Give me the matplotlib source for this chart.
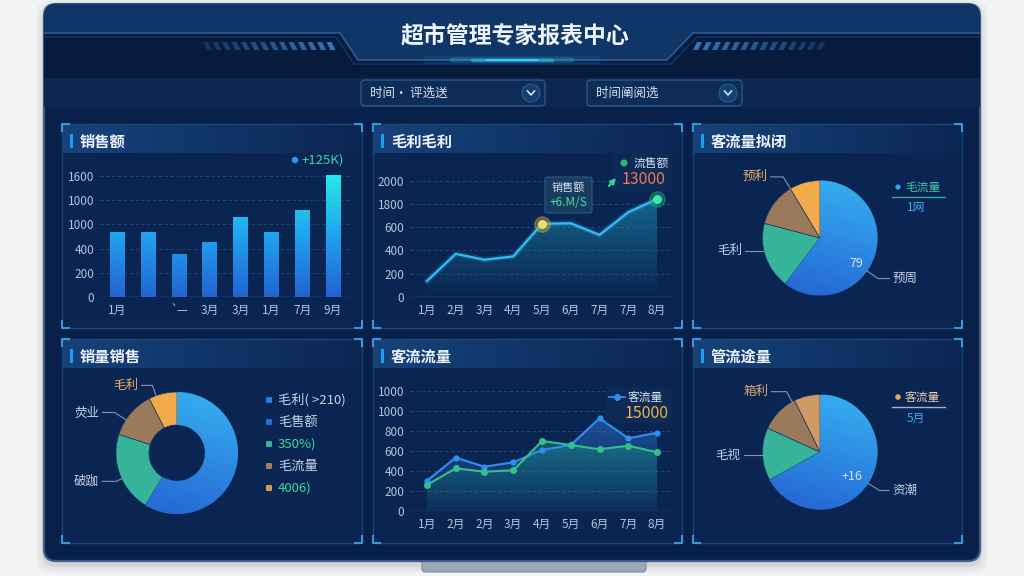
import numpy as np
import matplotlib
matplotlib.use('Agg')
import matplotlib.pyplot as plt
from matplotlib.patches import FancyBboxPatch, Rectangle, Polygon, Circle
from matplotlib.colors import LinearSegmentedColormap, to_rgb

plt.rcParams['font.family'] = ['Noto Sans CJK SC', 'DejaVu Sans']

W, H = 1024, 576

# ---------------- data ----------------
title = '超市管理专家报表中心'
filter_texts = ['时间· 评选送', '时间阐阅选']
panel_titles = ['销售额', '毛利毛利', '客流量拟闭', '销量销售', '客流流量', '管流途量']

sales_labels = ['1月', '', '`—', '3月', '3月', '1月', '7月', '9月']
sales = [530, 535, 355, 450, 660, 530, 715, 1005]
sales_ytick_labels = ['0', '200', '400', '1000', '1000', '1600']

profit_labels = ['1月', '2月', '3月', '4月', '5月', '6月', '7月', '7月', '8月']
profit = [137, 371, 320, 349, 629, 634, 534, 729, 843]
profit_ytick_labels = ['0', '200', '400', '600', '1800', '2000']

flow_labels = ['1月', '2月', '2月', '3月', '4月', '5月', '6月', '7月', '8月']
flow_blue = [303, 533, 443, 487, 610, 660, 927, 727, 783]
flow_green = [260, 427, 393, 407, 700, 660, 617, 653, 587]
flow_ytick_labels = ['0', '200', '400', '600', '800', '1000', '1000']

pie1_share = [60.3, 18.8, 12.3, 8.6]
pie1_labels = ['预周', '毛利', '', '预利']
donut_share = [58.7, 21.3, 12.6, 7.5]
donut_labels = ['', '破跏', '荧业', '毛利']
pie2_share = [67.0, 14.8, 10.9, 7.3]
pie2_labels = ['资潮', '毛视', '', '箱利']

donut_legend = ['毛利( >210)', '毛售额', '350%)', '毛流量', '4006)']

# ---------------- colours ----------------
C_TXT = '#d8e4f4'
C_TICK = '#b4c4dc'
C_GRID = '#27497a'
C_BLUE_TOP, C_BLUE_BOT = '#36b2f2', '#2462d2'
C_GREEN, C_BROWN, C_ORANGE, C_TAN = '#35b49a', '#9b7a5c', '#f2aa4a', '#cf9a63'

fig = plt.figure(figsize=(W / 100, H / 100), dpi=100)
fig.patch.set_facecolor('#f3f4f6')

bg = fig.add_axes([0, 0, 1, 1])
bg.axis('off')


def px_axes(l, t, r, b, z=2):
    ax = fig.add_axes([l / W, 1 - b / H, (r - l) / W, (b - t) / H])
    ax.set_facecolor('none')
    ax.set_zorder(z)
    return ax


def hgrad(ax, l, t, r, b, color, a1, a2, clip=None, z=1):
    rgb = to_rgb(color)
    img = np.zeros((1, 64, 4))
    img[..., :3] = rgb
    img[..., 3] = np.linspace(a1, a2, 64)
    im = ax.imshow(img, extent=(l, r, b, t), aspect='auto', interpolation='bilinear', zorder=z)
    if clip is not None:
        im.set_clip_path(clip)
    return im


# ---------------- frame ----------------
for k, a in [(8, 0.03), (5, 0.04), (2, 0.06)]:
    bg.add_patch(FancyBboxPatch((44 - k, 4 - k + 4), 936 + 2 * k, 557 + 2 * k,
                                boxstyle='round,pad=0,rounding_size=16', fc='k', ec='none', alpha=a))
bg.add_patch(FancyBboxPatch((422, 556), 224, 16, boxstyle='round,pad=0,rounding_size=3',
                            fc='#9ba6b6', ec='#828d9f', lw=0.8))
frame = FancyBboxPatch((44, 4), 936, 557, boxstyle='round,pad=0,rounding_size=12',
                       fc='#09214a', ec='#3b5b88', lw=1.6)
bg.add_patch(frame)

for (t, b, c) in [(4, 33, '#0f3667'), (33, 78, '#071b3d'), (78, 107, '#0b2752')]:
    r = Rectangle((44, t), 936, b - t, fc=c, ec='none')
    bg.add_patch(r)
    r.set_clip_path(frame)

# title plate
bg.add_patch(Polygon([(340, 33), (358, 60), (667, 60), (693, 33)], closed=True, fc='#0f3667', ec='none'))
bg.plot([44, 340, 358, 667, 693, 980], [33, 33, 60, 60, 33, 33], color='#2e6199', lw=1.1)
bg.plot([44, 336, 354, 671, 697, 980], [37, 37, 64, 64, 37, 37], color='#153d6e', lw=0.8)
for w, lw, a in [(170, 6, 0.08), (120, 4, 0.2), (80, 2.5, 0.45), (50, 1.5, 0.9)]:
    bg.plot([512 - w / 2, 512 + w / 2], [60, 60], color='#3cd0ff', lw=lw, alpha=a, solid_capstyle='round')
bg.text(515, 36, title, color='#eef4ff', fontsize=16.5, fontweight='bold', ha='center', va='center')

# slanted stripes
for i in range(14):
    a = 0.25 + 0.6 * i / 13
    x0 = 203 + i * 9.5
    bg.add_patch(Polygon([(x0, 42), (x0 + 5, 42), (x0 + 9, 50), (x0 + 4, 50)], fc='#3a86d2', ec='none', alpha=a))
    x1 = 693 + (13 - i) * 9.5
    bg.add_patch(Polygon([(x1 + 4, 42), (x1 + 9, 42), (x1 + 5, 50), (x1, 50)], fc='#3a86d2', ec='none', alpha=a))

# filter dropdowns
for (l, r), txt in zip([(361, 545), (587, 742)], filter_texts):
    bg.add_patch(FancyBboxPatch((l, 80), r - l, 26, boxstyle='round,pad=0,rounding_size=4',
                                fc='#0d2c58', ec='#2a5688', lw=1))
    bg.text(l + 9, 93, txt, color=C_TXT, fontsize=9, va='center', ha='left')
    bg.add_patch(Circle((r - 14, 93), 9, fc='#15406f', ec='#2b5c92', lw=0.8))
    bg.plot([r - 17.5, r - 14, r - 10.5], [91, 95, 91], color='#e0ecff', lw=1.1)

# panels
panels = [(62, 124, 362, 328), (373, 124, 682, 328), (693, 124, 962, 328),
          (62, 339, 362, 543), (373, 339, 682, 543), (693, 339, 962, 543)]
for (l, t, r, b), name in zip(panels, panel_titles):
    bg.add_patch(Rectangle((l, t), r - l, b - t, fc='#0a2552', ec='#1c4578', lw=1))
    hgrad(bg, l + 1, t + 1, r - 1, t + 29, '#1a4a84', 0.8, 0.05)
    bg.add_patch(Rectangle((l + 8, t + 10), 3, 14, fc='#1e9cf0', ec='none'))
    bg.text(l + 18, t + 18, name, color='#eef4ff', fontsize=11, fontweight='bold', va='center', ha='left')
    L = 7
    for cx, cy, dx, dy in [(l, t, 1, 1), (r, t, -1, 1), (l, b, 1, -1), (r, b, -1, -1)]:
        bg.plot([cx + dx * L, cx, cx], [cy, cy, cy + dy * L], color='#3b95d8', lw=1.5)

bg.set_xlim(0, W)
bg.set_ylim(H, 0)


def style_axes(ax, ticks, labels, xlabels):
    for s in ax.spines.values():
        s.set_visible(False)
    ax.set_yticks(ticks)
    ax.set_yticklabels(labels)
    ax.set_xticks(range(len(xlabels)))
    ax.set_xticklabels(xlabels)
    ax.tick_params(length=0, colors=C_TICK, labelsize=8.5)
    ax.tick_params(axis='x', pad=5)
    ax.tick_params(axis='y', pad=4)
    for tk in ticks[1:]:
        ax.axhline(tk, color=C_GRID, lw=0.6, ls=(0, (4, 3)), zorder=0)
    ax.axhline(0, color='#35598a', lw=1, zorder=1)


def gradient_fill(ax, x, y, color, a_top, a_bot, ymax):
    verts = [(x[0], 0)] + list(zip(x, y)) + [(x[-1], 0)]
    poly = Polygon(verts, closed=True, fc='none', ec='none')
    ax.add_patch(poly)
    rgb = to_rgb(color)
    img = np.zeros((64, 1, 4))
    img[..., :3] = rgb
    img[:, 0, 3] = np.linspace(a_bot, a_top, 64)
    im = ax.imshow(img, extent=(x[0], x[-1], 0, ymax), origin='lower', aspect='auto',
                   interpolation='bilinear', zorder=1)
    im.set_clip_path(poly)


# ---------------- chart 1: bars ----------------
ax1 = px_axes(100, 170, 350, 297)
bar_cmap = LinearSegmentedColormap.from_list('bar', ['#2462d2', '#1fa2ef', '#22e8e8'])
bw = 0.46
for i, v in enumerate(sales):
    g = np.linspace(0, v / 1000, 64)[:, None]
    ax1.imshow(g, extent=(i - bw / 2, i + bw / 2, 0, v), origin='lower', aspect='auto',
               cmap=bar_cmap, vmin=0, vmax=1, zorder=2)
style_axes(ax1, [0, 200, 400, 600, 800, 1000], sales_ytick_labels, sales_labels)
ax1.set_xlim(-0.55, 7.55)
ax1.set_ylim(0, 1050)

# ---------------- chart 2: profit line ----------------
ax2 = px_axes(410, 176, 672, 297)
xs = np.arange(len(profit))
gradient_fill(ax2, xs, profit, '#1e9ab8', 0.55, 0.0, max(profit))
ax2.plot(xs, profit, color='#2db8f0', lw=4, alpha=0.2, zorder=3)
ax2.plot(xs, profit, color='#33bdf2', lw=1.6, zorder=4)
for idx, c_in, c_halo in [(4, '#e6e070', '#c8a838'), (8, '#3ae6a8', '#1fa878')]:
    ax2.plot(xs[idx], profit[idx], 'o', ms=11, color=c_halo, alpha=0.45, zorder=5)
    ax2.plot(xs[idx], profit[idx], 'o', ms=5.5, color=c_in, zorder=6)
style_axes(ax2, [0, 200, 400, 600, 800, 1000], profit_ytick_labels, profit_labels)
ax2.set_xlim(-0.59, 8.52)
ax2.set_ylim(0, 1040)

# ---------------- chart 5: flow lines ----------------
ax5 = px_axes(410, 386, 672, 511)
xs = np.arange(len(flow_blue))
gradient_fill(ax5, xs, flow_blue, '#2a70d0', 0.55, 0.05, max(flow_blue))
gradient_fill(ax5, xs, flow_green, '#1c8c7c', 0.5, 0.05, max(flow_green))
ax5.plot(xs, flow_blue, color='#2f8ff0', lw=1.5, marker='o', ms=3.5, zorder=4)
ax5.plot(xs, flow_green, color='#35c08a', lw=1.5, marker='o', ms=4, zorder=5)
style_axes(ax5, [0, 200, 400, 600, 800, 1000, 1200], flow_ytick_labels, flow_labels)
ax5.set_xlim(-0.59, 8.52)
ax5.set_ylim(0, 1250)


# ---------------- pies ----------------
def draw_pie(cx, cy, rad, shares, colors, labels, label_style, inner=None, hole=None):
    Lm = 1.9
    side = 2 * Lm * rad
    ax = px_axes(cx - side / 2, cy - side / 2, cx + side / 2, cy + side / 2, z=3)
    wp = dict(ec='#163a66', lw=0.5)
    if hole:
        wp['width'] = 1 - hole
    wedges, _ = ax.pie(shares, colors=colors, startangle=90, counterclock=False,
                       radius=1, wedgeprops=wp)
    blue = LinearSegmentedColormap.from_list('pb', [C_BLUE_BOT, C_BLUE_TOP])
    g = np.linspace(0, 1, 64)[:, None] * np.ones((1, 64)) * 0.8 + np.linspace(0, 0.2, 64)[None, :]
    im = ax.imshow(g, extent=(-1, 1, -1, 1), origin='lower', cmap=blue, vmin=0, vmax=1,
                   aspect='auto', zorder=wedges[0].get_zorder() + 0.1)
    im.set_clip_path(wedges[0])
    for txt, (ang, re, seg, tcol) in zip(labels, label_style):
        if not txt:
            continue
        a = np.deg2rad(ang)
        p0 = np.array([np.cos(a), np.sin(a)])
        p1 = p0 * re
        sgn = 1 if np.cos(a) > 0 else -1
        p2 = p1 + np.array([sgn * seg, 0])
        ax.plot([p0[0], p1[0], p2[0]], [p0[1], p1[1], p2[1]], color='#8294ae', lw=0.8, clip_on=False)
        ax.text(p2[0] + sgn * 0.05, p2[1], txt, color=tcol, fontsize=9,
                ha='left' if sgn > 0 else 'right', va='center', clip_on=False)
    if inner:
        ax.text(inner[0], inner[1], inner[2], color=C_TXT, fontsize=9, style='italic',
                ha='center', va='center')
    ax.set_xlim(-Lm, Lm)
    ax.set_ylim(-Lm, Lm)
    ax.axis('off')
    return ax


LBL = '#c4d0e4'
draw_pie(820, 238, 57.5, pie1_share, [C_BLUE_TOP, C_GREEN, C_BROWN, C_ORANGE], pie1_labels,
         [(-35, 1.23, 0.2, LBL), (193, 1.0, 0.33, LBL), (0, 1, 0, LBL), (121, 1.24, 0.22, '#eab06a')],
         inner=(0.64, -0.45, '79'))
draw_pie(177, 453, 61, donut_share, [C_BLUE_TOP, C_GREEN, C_BROWN, C_ORANGE], donut_labels,
         [(0, 1, 0, LBL), (205, 1.1, 0.23, LBL), (147, 1.22, 0.2, LBL), (110, 1.18, 0.18, '#eab060')],
         hole=0.46)
draw_pie(820, 452, 57.5, pie2_share, [C_BLUE_TOP, C_GREEN, C_BROWN, C_TAN], pie2_labels,
         [(-33, 1.23, 0.17, LBL), (183, 1.0, 0.33, LBL), (0, 1, 0, LBL), (119, 1.2, 0.26, '#dcaa72')],
         inner=(0.56, -0.43, '+16'))

# ---------------- overlay: legends, tooltips ----------------
ov = fig.add_axes([0, 0, 1, 1])
ov.set_zorder(10)
ov.set_facecolor('none')
ov.axis('off')

# bar legend
ov.add_patch(Circle((295, 160), 3.2, fc='#22a0f0', ec='none'))
ov.text(302, 160, '+125K)', color='#3ad6b0', fontsize=9.5, va='center', ha='left')

# profit tooltip
ov.add_patch(FancyBboxPatch((545, 177), 47, 36, boxstyle='round,pad=0,rounding_size=2',
                            fc='#1b3d60', ec='#2c5d8a', lw=0.8, alpha=0.92))
ov.text(568.5, 187, '销售额', color=C_TXT, fontsize=8, ha='center', va='center')
ov.text(568.5, 203, '+6.M/S', color='#3ee0a0', fontsize=8.5, ha='center', va='center')
ov.add_patch(FancyBboxPatch((612, 153), 60, 38, boxstyle='round,pad=0,rounding_size=2',
                            fc='#0e2c55', ec='none', alpha=0.85))
ov.add_patch(Circle((624, 163), 3.5, fc='#2bb377', ec='none'))
ov.text(634, 163, '流售额', color=C_TXT, fontsize=8.5, va='center', ha='left')
ov.annotate('', xy=(618, 176), xytext=(607, 188),
            arrowprops=dict(arrowstyle='-|>', color='#30d0a0', lw=1.5, mutation_scale=8))
ov.text(622, 180, '13000', color='#f07855', fontsize=11.5, va='center', ha='left')

# flow legend
ov.add_patch(FancyBboxPatch((606, 387), 66, 36, boxstyle='round,pad=0,rounding_size=2',
                            fc='#0e2c55', ec='none', alpha=0.85))
ov.plot([609, 625], [397, 397], color='#2f8ff0', lw=1.3)
ov.plot([617], [397], 'o', color='#2f8ff0', ms=4)
ov.text(628, 397, '客流量', color=C_TXT, fontsize=8.5, va='center', ha='left')
ov.text(625, 413, '15000', color='#f3b04a', fontsize=11.5, va='center', ha='left')

# pie legends
ov.add_patch(Circle((898, 187), 2.6, fc='#30a8f0', ec='none'))
ov.text(905, 187, '毛流量', color='#42c8a8', fontsize=8.5, va='center', ha='left')
ov.plot([892, 945], [197, 197], color='#3aa890', lw=1)
ov.text(916, 208, '1网', color='#42a8f0', fontsize=8.5, va='center', ha='center')

ov.add_patch(Circle((898, 397), 2.8, fc='#e0a868', ec='none'))
ov.text(905, 397, '客流量', color='#e8d0b0', fontsize=8.5, va='center', ha='left')
ov.plot([892, 945], [407, 407], color='#a0b0c8', lw=1)
ov.text(916, 418, '5月', color='#42a8f0', fontsize=8.5, va='center', ha='center')

# donut legend
sq_colors = ['#2a7ee0', '#2a6cd0', C_GREEN, '#a07e5e', '#cf9a5e']
txt_colors = ['#c8d4ea', '#c8d4ea', '#3ed8a0', '#c8d4ea', '#3ed8a0']
for i, (txt, sc, tc) in enumerate(zip(donut_legend, sq_colors, txt_colors)):
    y = 400 + i * 22
    ov.add_patch(FancyBboxPatch((266, y - 3), 6, 6, boxstyle='round,pad=0,rounding_size=1', fc=sc, ec='none'))
    ov.text(278, y, txt, color=tc, fontsize=9.5, va='center', ha='left')

ov.set_xlim(0, W)
ov.set_ylim(H, 0)

fig.savefig('out.png', dpi=100, facecolor=fig.get_facecolor())
